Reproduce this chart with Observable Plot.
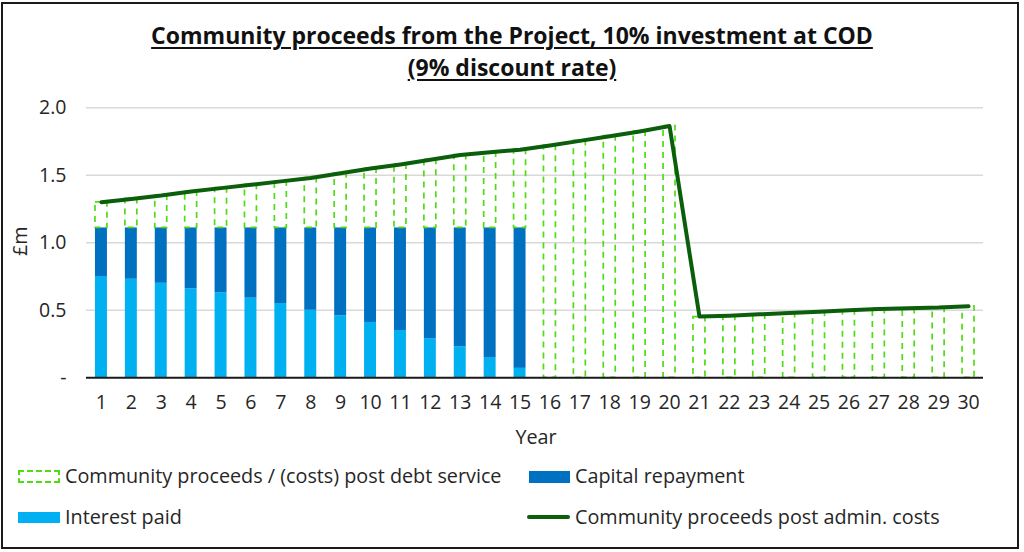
<!DOCTYPE html>
<html>
<head>
<meta charset="utf-8">
<script src="https://cdn.jsdelivr.net/npm/d3@7"></script>
<script src="https://cdn.jsdelivr.net/npm/@observablehq/plot@0.6"></script>
<style>
  html, body { margin: 0; padding: 0; background: #fff; }
  body { width: 1024px; height: 552px; position: relative; overflow: hidden; font-family: "Open Sans", "Liberation Sans", Arial, sans-serif; color: #262626; }
  #frame { position: absolute; left: 1px; top: 2px; width: 1018px; height: 547px; box-sizing: border-box; border: 2px solid #1a1a1a; }
  .title { position: absolute; left: 0; width: 1024px; text-align: center; font-weight: bold; font-size: 23px; line-height: 1; text-decoration: underline; text-decoration-thickness: 1.5px; text-underline-offset: 3px; color: #111; }
  #chart { position: absolute; left: 0; top: 90px; }
  .lbl { position: absolute; font-size: 19.8px; white-space: nowrap; line-height: 1; }
  .sw { position: absolute; box-sizing: border-box; }
</style>
</head>
<body>
<div id="frame"></div>
<div class="title" style="top:24px">Community proceeds from the Project, 10% investment at COD</div>
<div class="title" style="top:56px">(9% discount rate)</div>
<div id="chart"></div>
<div class="lbl" style="left:8px; top:234px; transform: rotate(-90deg); transform-origin: 12px 10px;">£m</div>
<div class="lbl" style="left:536px; top:427px; transform: translateX(-50%);">Year</div>

<div class="sw" style="left:18px; top:470px; width:42px; height:13px; border:2px dashed #4fdc14;"></div>
<div class="lbl" style="left:65px; top:466px;">Community proceeds / (costs) post debt service</div>
<div class="sw" style="left:529px; top:471px; width:41px; height:12px; background:#0070c0;"></div>
<div class="lbl" style="left:575px; top:466px;">Capital repayment</div>
<div class="sw" style="left:18px; top:512px; width:42px; height:11px; background:#00b0f0;"></div>
<div class="lbl" style="left:65px; top:507px;">Interest paid</div>
<div class="sw" style="left:527px; top:515px; width:43px; height:4px; background:#0b5e0b; border-radius:2px;"></div>
<div class="lbl" style="left:575px; top:507px;">Community proceeds post admin. costs</div>

<script>
const years = d3.range(1, 31);
const interestPaid = [0.75,0.73,0.70,0.66,0.63,0.59,0.55,0.50,0.46,0.41,0.35,0.29,0.23,0.15,0.07,
  0,0,0,0,0,0,0,0,0,0,0,0,0,0,0];
const capitalRepayment = [0.36,0.38,0.41,0.45,0.48,0.52,0.56,0.61,0.65,0.70,0.76,0.82,0.88,0.96,1.04,
  0,0,0,0,0,0,0,0,0,0,0,0,0,0,0];
const proceedsPostDebt = [0.19,0.215,0.24,0.27,0.295,0.32,0.345,0.37,0.405,0.44,0.47,0.505,0.54,0.56,0.58,
  1.72,1.755,1.79,1.825,1.865,0.45,0.46,0.47,0.48,0.49,0.50,0.51,0.51,0.52,0.53];
const proceedsPostAdmin = [1.30,1.325,1.35,1.38,1.405,1.43,1.455,1.48,1.515,1.55,1.58,1.615,1.65,1.67,1.69,
  1.72,1.755,1.79,1.825,1.865,0.454,0.46,0.47,0.48,0.49,0.50,0.51,0.515,0.52,0.53];
const yTicks = [0, 0.5, 1.0, 1.5, 2.0];

const rows = years.map((y, i) => ({
  year: y,
  interest: interestPaid[i],
  capital: capitalRepayment[i],
  post: proceedsPostDebt[i],
  line: proceedsPostAdmin[i]
}));

const chart = Plot.plot({
  width: 1024,
  height: 330,
  marginLeft: 86,
  marginRight: 41,
  marginTop: 17.3,
  marginBottom: 42.7,
  style: { fontFamily: "Open Sans, Liberation Sans, Arial, sans-serif", fontSize: "19.5px", color: "#262626", background: "transparent" },
  x: { type: "band", domain: years, paddingInner: 0.6, paddingOuter: 0.3, round: false, label: null },
  y: { domain: [0, 2], label: null },
  marks: [
    Plot.ruleY(yTicks.filter(d => d > 0), { stroke: "#d9d9d9", strokeWidth: 1.5 }),
    Plot.barY(rows, { x: "year", y1: 0, y2: "interest", fill: "#00b0f0" }),
    Plot.barY(rows, { x: "year", y1: "interest", y2: d => d.interest + d.capital, fill: "#0070c0" }),
    Plot.barY(rows, { x: "year", y1: d => d.interest + d.capital, y2: d => d.interest + d.capital + d.post,
      fill: "none", stroke: "#4fdc14", strokeWidth: 1.7, strokeDasharray: "6,5" }),
    Plot.ruleY([0], { stroke: "#1a1a1a", strokeWidth: 2 }),
    Plot.lineY(rows, { x: "year", y: "line", stroke: "#0b5e0b", strokeWidth: 4, strokeLinejoin: "round", strokeLinecap: "round" }),
    Plot.axisY({ ticks: yTicks, tickSize: 0, tickPadding: 20, tickFormat: d => d === 0 ? "-" : d.toFixed(1), label: null }),
    Plot.axisX({ tickSize: 0, tickPadding: 17, label: null })
  ]
});
document.getElementById("chart").appendChild(chart);
</script>
</body>
</html>
